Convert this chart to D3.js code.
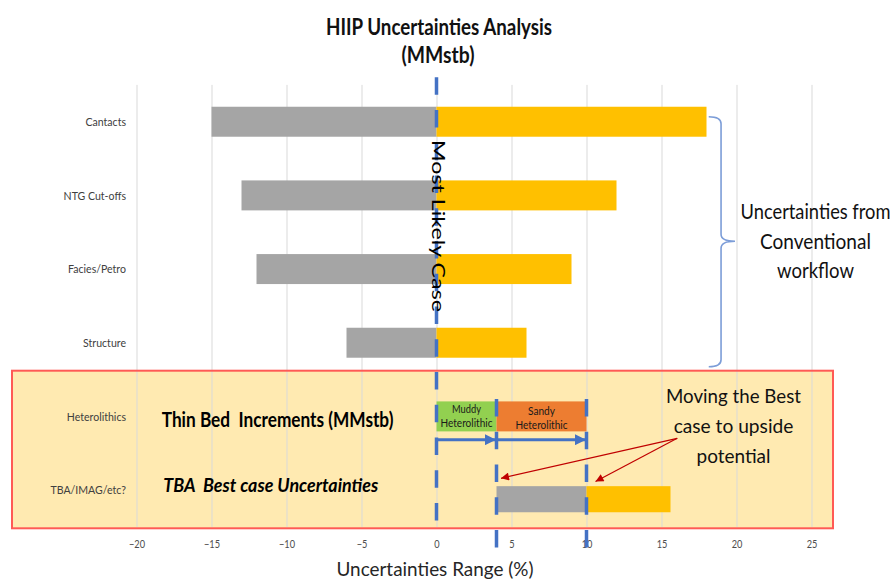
<!DOCTYPE html>
<html>
<head>
<meta charset="utf-8">
<script src="https://cdn.jsdelivr.net/npm/d3@7"></script>
<style>
  html, body { margin: 0; padding: 0; background: #fff; }
  svg { display: block; }
  text { font-family: Lato, "Open Sans", sans-serif; }
</style>
</head>
<body>
<svg id="chart" width="896" height="581"></svg>
<script>
// ---- data ----
const categories = ["Cantacts", "NTG Cut-offs", "Facies/Petro", "Structure", "Heterolithics", "TBA/IMAG/etc?"];
const conventional = ["Cantacts", "NTG Cut-offs", "Facies/Petro", "Structure"];
const downside = [-15, -13, -12, -6];
const upside = [18, 12, 9, 6];

const incrementNames = ["Muddy", "Sandy"];
const incrementFrom = [0, 4];
const incrementTo = [4, 10];

const tbaFrom = [4, 10];
const tbaTo = [10, 15.6];

const xTicks = [-20, -15, -10, -5, 0, 5, 10, 15, 20, 25];
const mostLikely = 0;
const thinBedMarks = [4, 10];

// ---- layout ----
const svg = d3.select("#chart");
const x = d3.scaleLinear().domain([-20, 25]).range([136.5, 811.5]);
const y = d3.scaleBand().domain(categories).range([84.9, 526.9])
  .paddingInner(0.593).paddingOuter(0.2965);
const bw = y.bandwidth();
const plotTop = 84.9, plotBottom = 526.9;

const grey = "#A5A5A5", gold = "#FFC000", blue = "#4472C4", red = "#C00000";
const incColors = ["#92D050", "#ED7D31"];

function fit(sel, w) {
  sel.attr("textLength", w).attr("lengthAdjust", "spacingAndGlyphs");
  return sel;
}
function squeeze(sel, f) {
  sel.each(function () {
    const l = this.getComputedTextLength();
    d3.select(this).attr("textLength", l * f).attr("lengthAdjust", "spacingAndGlyphs");
  });
}
// centred text narrowed to a given width by a horizontal scale
function scaledText(cx, cy, w, s, size) {
  const t = svg.append("text").attr("x", 0).attr("y", 0).attr("text-anchor", "middle")
    .attr("font-size", size).attr("fill", "#111").text(s);
  const sx = w / t.node().getComputedTextLength();
  t.attr("transform", `translate(${cx},${cy}) scale(${sx},1)`);
  return t;
}

// markers
const defs = svg.append("defs");
defs.append("marker").attr("id", "blueHead").attr("markerUnits", "userSpaceOnUse")
  .attr("viewBox", "0 0 10 10").attr("refX", 10).attr("refY", 5)
  .attr("markerWidth", 11).attr("markerHeight", 11).attr("orient", "auto")
  .append("path").attr("d", "M0,0 L10,5 L0,10 Z").attr("fill", blue);
defs.append("marker").attr("id", "redHead").attr("markerUnits", "userSpaceOnUse")
  .attr("viewBox", "0 0 10 10").attr("refX", 10).attr("refY", 5)
  .attr("markerWidth", 9).attr("markerHeight", 8).attr("orient", "auto")
  .append("path").attr("d", "M0,0 L10,5 L0,10 Z").attr("fill", red);

// highlighted thin-bed panel
const panel = { x0: 12, x1: 833, y0: 370.7, y1: 528.3 };
svg.append("rect")
  .attr("x", panel.x0).attr("y", panel.y0)
  .attr("width", panel.x1 - panel.x0).attr("height", panel.y1 - panel.y0)
  .attr("fill", "#FFEAB1");

// vertical gridlines
const grid = svg.append("g").attr("transform", `translate(0,${plotBottom})`)
  .call(d3.axisBottom(x).tickValues(xTicks).tickSize(-(plotBottom - plotTop)).tickFormat(""));
grid.select(".domain").remove();
grid.selectAll("line").attr("stroke", "#D9D9D9").attr("stroke-width", 1);

svg.append("rect")
  .attr("x", panel.x0).attr("y", panel.y0)
  .attr("width", panel.x1 - panel.x0).attr("height", panel.y1 - panel.y0)
  .attr("fill", "none").attr("stroke", "#FF5A55").attr("stroke-width", 2);

// x axis labels
const axis = svg.append("g").attr("transform", `translate(0,${plotBottom})`)
  .call(d3.axisBottom(x).tickValues(xTicks).tickSize(0).tickPadding(13).tickFormat(d3.format("d")));
axis.select(".domain").remove();
axis.selectAll("text")
  .attr("font-family", "Lato, sans-serif").attr("font-size", 11.5).attr("fill", "#4d4d4d");
squeeze(axis.selectAll("text"), 0.8);

// category labels
const catLabels = svg.append("g").selectAll("text").data(categories).join("text")
  .attr("x", 126).attr("y", d => y(d) + bw / 2).attr("dy", "0.36em")
  .attr("text-anchor", "end").attr("font-size", 12).attr("fill", "#404040")
  .text(d => d);
squeeze(catLabels, 0.88);

// conventional tornado bars
svg.append("g").selectAll("rect").data(conventional).join("rect")
  .attr("x", (d, i) => x(downside[i])).attr("y", d => y(d))
  .attr("width", (d, i) => x(0) - x(downside[i])).attr("height", bw)
  .attr("fill", grey);
svg.append("g").selectAll("rect").data(conventional).join("rect")
  .attr("x", x(0)).attr("y", d => y(d))
  .attr("width", (d, i) => x(upside[i]) - x(0)).attr("height", bw)
  .attr("fill", gold);

// thin-bed increments
const hy = y("Heterolithics");
svg.append("g").selectAll("rect").data(incrementNames).join("rect")
  .attr("x", (d, i) => x(incrementFrom[i])).attr("y", hy)
  .attr("width", (d, i) => x(incrementTo[i]) - x(incrementFrom[i])).attr("height", bw)
  .attr("fill", (d, i) => incColors[i]);

// TBA best-case bar (sits slightly lower in its band)
const ty = y("TBA/IMAG/etc?") + bw * 0.37, th = bw * 0.87;
const tbaColors = [grey, gold];
svg.append("g").selectAll("rect").data(tbaFrom).join("rect")
  .attr("x", (d, i) => x(tbaFrom[i])).attr("y", ty)
  .attr("width", (d, i) => x(tbaTo[i]) - x(tbaFrom[i])).attr("height", th)
  .attr("fill", (d, i) => tbaColors[i]);

// increment labels
const incText = svg.append("g");
incrementNames.forEach((n, i) => {
  const cx = (x(incrementFrom[i]) + x(incrementTo[i])) / 2;
  const t1 = incText.append("text").attr("x", cx).attr("y", hy + 11.5 + i * 2.5)
    .attr("text-anchor", "middle").attr("font-size", 10.5).attr("fill", "#1a1a1a").text(n);
  fit(t1, i === 0 ? 29 : 27);
  const t2 = incText.append("text").attr("x", cx).attr("y", hy + 25.7 + i * 1.6)
    .attr("text-anchor", "middle").attr("font-size", 10.5).attr("fill", "#1a1a1a").text("Heterolithic");
  fit(t2, 52);
});

// dashed reference lines
svg.append("line")
  .attr("x1", x(mostLikely)).attr("x2", x(mostLikely)).attr("y1", 77.3).attr("y2", 520.5)
  .attr("stroke", blue).attr("stroke-width", 3.5).attr("stroke-dasharray", "17.5 15.25");
svg.append("g").selectAll("line").data(thinBedMarks).join("line")
  .attr("x1", d => x(d)).attr("x2", d => x(d)).attr("y1", 399).attr("y2", 548)
  .attr("stroke", blue).attr("stroke-width", 3.5).attr("stroke-dasharray", "17.5 15.25");

// increment arrows
const ay = hy + bw + 8.3;
svg.append("g").selectAll("line").data(incrementNames).join("line")
  .attr("x1", (d, i) => x(incrementFrom[i]) + 1).attr("x2", (d, i) => x(incrementTo[i]) - 0.5)
  .attr("y1", ay).attr("y2", ay)
  .attr("stroke", blue).attr("stroke-width", 3).attr("marker-end", "url(#blueHead)");

// "Most Likely Case" vertical label (glyph height narrowed across the line)
fit(svg.append("text")
  .attr("transform", `translate(${x(mostLikely) - 4.5},226) rotate(90) scale(1,0.74)`)
  .attr("text-anchor", "middle").attr("font-family", "'Liberation Sans', Arial, sans-serif")
  .attr("font-size", 22.5).attr("fill", "#000").text("Most Likely Case"), 172);

// title
fit(svg.append("text").attr("x", 439).attr("y", 35).attr("text-anchor", "middle")
  .attr("font-size", 22).attr("font-weight", 700).attr("fill", "#111")
  .text("HIIP Uncertainties Analysis"), 226);
fit(svg.append("text").attr("x", 438).attr("y", 63).attr("text-anchor", "middle")
  .attr("font-size", 22).attr("font-weight", 700).attr("fill", "#111")
  .text("(MMstb)"), 73);

// axis title
fit(svg.append("text").attr("x", 435).attr("y", 576).attr("text-anchor", "middle")
  .attr("font-size", 20).attr("fill", "#262626").text("Uncertainties Range (%)"), 197);

// brace around the conventional workflow rows
const bTop = y("Cantacts") + 10, bBot = y("Structure") + bw + 9;
const bMid = (bTop + bBot) / 2 - 0.5;
const bx0 = x(18.15), bx1 = x(18.97), bTip = x(19.9);
const r = 7;
svg.append("path")
  .attr("d", `M${bx0},${bTop} Q${bx1},${bTop} ${bx1},${bTop + r} L${bx1},${bMid - r}
              Q${bx1},${bMid} ${bTip},${bMid} Q${bx1},${bMid} ${bx1},${bMid + r}
              L${bx1},${bBot - r} Q${bx1},${bBot} ${bx0},${bBot}`)
  .attr("fill", "none").attr("stroke", "#7C9DD8").attr("stroke-width", 1.6);

// right-hand note
const note1 = ["Uncertainties from", "Conventional", "workflow"];
const note1W = [150, 111, 77];
note1.forEach((s, i) => scaledText(815.5, 219.3 + i * 29.5, note1W[i], s, 20.5));

// panel notes
fit(svg.append("text").attr("x", 161.7).attr("y", 426.7)
  .attr("xml:space", "preserve").style("white-space", "pre")
  .attr("font-size", 21).attr("font-weight", 700).attr("fill", "#000")
  .text("Thin Bed  Increments (MMstb)"), 231.7);
fit(svg.append("text").attr("x", 163.3).attr("y", 491.7)
  .attr("xml:space", "preserve").style("white-space", "pre")
  .attr("font-size", 19).attr("font-weight", 700).attr("font-style", "italic").attr("fill", "#000")
  .text("TBA  Best case Uncertainties"), 215);

const note2 = ["Moving the Best", "case to upside", "potential"];
const note2W = [135, 119.7, 74];
note2.forEach((s, i) => {
  fit(svg.append("text").attr("x", 733.5).attr("y", 403.3 + i * 30).attr("text-anchor", "middle")
    .attr("font-size", 20).attr("fill", "#111").text(s), note2W[i]);
});

// red pointers from the note to the shifted best case
const from = [x(16.05), 438.3];
const targets = [[x(4.3), 478.3], [x(10.6), 481.5]];
svg.append("g").selectAll("line").data(targets).join("line")
  .attr("x1", from[0]).attr("y1", from[1])
  .attr("x2", d => d[0]).attr("y2", d => d[1])
  .attr("stroke", red).attr("stroke-width", 1.2).attr("marker-end", "url(#redHead)");
</script>
</body>
</html>
